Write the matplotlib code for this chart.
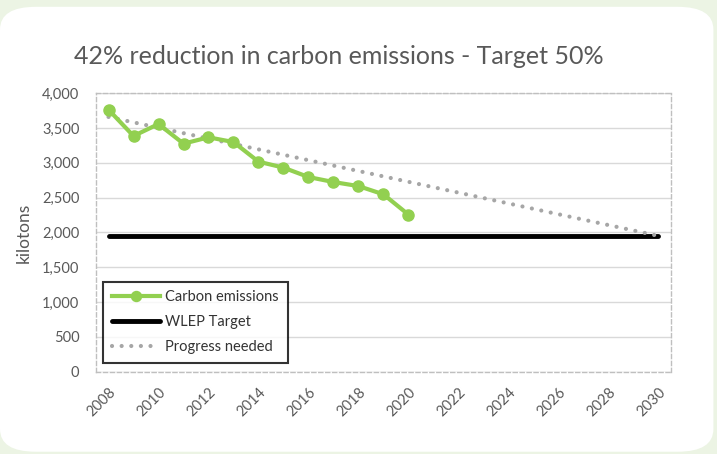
import numpy as np
import matplotlib.pyplot as plt
from matplotlib.patches import FancyBboxPatch

plt.rcParams['font.family'] = ['Lato', 'DejaVu Sans']

# ---------------------------- Data -------------------------------
years = np.arange(2008, 2021)
emissions = [3765, 3386, 3558, 3276, 3367, 3299, 3017, 2931, 2796, 2724, 2666, 2547, 2255]
target_years = [2008, 2030]
target_vals = [1950, 1950]
progress_years = [2008, 2030]
progress_vals = [3660, 1950]
tick_years = np.arange(2008, 2031, 2)
y_ticks = np.arange(0, 4001, 500)

GREEN = "#92d050"
GREY_TXT = "#595959"

fig = plt.figure(figsize=(7.17, 4.54), dpi=100)
fig.patch.set_facecolor("#ecf4e4")

# white rounded card behind the chart
card = FancyBboxPatch((0.0, 0.005), 0.995, 0.98,
                      boxstyle="round,pad=0,rounding_size=0.05",
                      transform=fig.transFigure, facecolor="white",
                      edgecolor="none", zorder=-10)
fig.patches.append(card)

ax = fig.add_axes([0.1339, 0.1817, 0.8019, 0.6128])
ax.set_facecolor("white")

ax.plot(progress_years, progress_vals, color="#a6a6a6", lw=3,
        linestyle=(0, (0.01, 2.3)), dash_capstyle="round",
        label="Progress needed", zorder=3)
ax.plot(target_years, target_vals, color="black", lw=3.5,
        solid_capstyle="round", label="WLEP Target", zorder=2)
ax.plot(years, emissions, color=GREEN, lw=3, marker="o", markersize=8,
        label="Carbon emissions", zorder=4)

ax.set_xlim(2007.5, 2030.5)
ax.set_ylim(0, 4000)
ax.set_yticks(y_ticks)
ax.set_yticklabels([f"{v:,}" for v in y_ticks])
ax.set_xticks(tick_years)
ax.set_xticklabels([str(y) for y in tick_years], rotation=45, ha="right",
                   rotation_mode="anchor")
ax.tick_params(axis="both", length=0, labelsize=10.5, colors=GREY_TXT)
ax.tick_params(axis="y", pad=12)
ax.tick_params(axis="x", pad=10)

ax.grid(axis="y", color="#d9d9d9", lw=1)
ax.set_axisbelow(True)
for s in ax.spines.values():
    s.set_color("#bfbfbf")
    s.set_linestyle((0, (3, 2)))
    s.set_linewidth(1)

ax.set_ylabel("kilotons", fontsize=12.5, color=GREY_TXT, labelpad=7)

handles, labels = ax.get_legend_handles_labels()
order = [2, 1, 0]
leg = ax.legend([handles[i] for i in order], [labels[i] for i in order],
                loc="lower left", bbox_to_anchor=(0.005, 0.015),
                fontsize=10.5, frameon=True, fancybox=False,
                handlelength=3.3, handletextpad=0.35, borderpad=0.6,
                labelspacing=0.75, borderaxespad=0.3, markerscale=0.9)
leg.get_frame().set_edgecolor("black")
leg.get_frame().set_linewidth(1.5)
for t in leg.get_texts():
    t.set_color("#333333")

fig.text(0.472, 0.875, "42% reduction in carbon emissions - Target 50%",
         ha="center", va="center", fontsize=18, color=GREY_TXT)

fig.savefig("out.png", dpi=100, facecolor=fig.get_facecolor())
